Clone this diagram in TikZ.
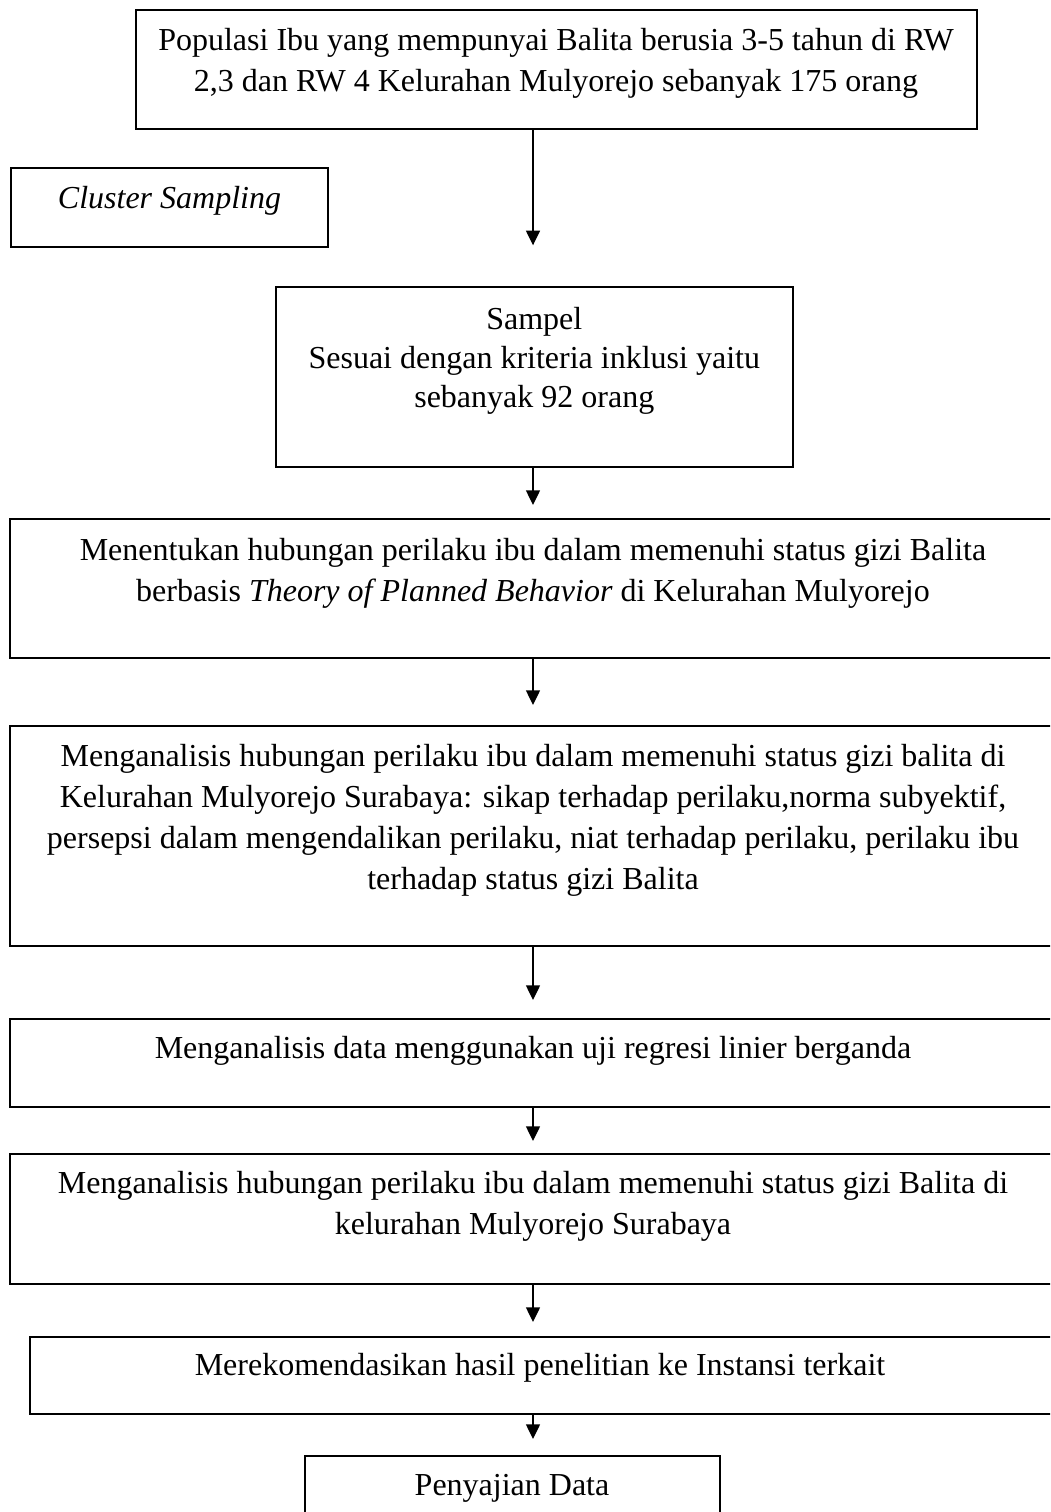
\documentclass[tikz,border=0pt]{standalone}
\usepackage{fontspec}
\setmainfont{Liberation Serif}
\usetikzlibrary{arrows.meta,fit}
\begin{document}
\begin{tikzpicture}[
    x=0.75pt, y=-0.75pt,
    font=\fontsize{24pt}{30.75pt}\selectfont,
    box/.style={draw, line width=1.5pt, inner sep=0pt, outer sep=0pt},
    txt/.style={anchor=base, inner sep=0pt, outer sep=0pt},
    flow/.style={line width=1pt, -{Triangle[width=10.5pt,length=11pt]}}
  ]
  \useasboundingbox (0,0) rectangle (1050,1512);
  \clip (0,0) rectangle (1050,1512);

  % axis of the vertical connectors
  \coordinate (ax) at (533,0);

  % boxes
  \node[box, fit={(135.7,10) (976.7,129)}] (b1) {};
  \node[box, fit={(10.7,168.3) (328.3,246.7)}] (cs) {};
  \node[box, fit={(275.7,287.3) (792.9,467)}] (b2) {};
  \node[box, fit={(10,519) (1056,658)}] (b3) {};
  \node[box, fit={(10,726) (1056,946)}] (b4) {};
  \node[box, fit={(10,1019) (1056,1107)}] (b5) {};
  \node[box, fit={(10,1154) (1056,1284)}] (b6) {};
  \node[box, fit={(29.5,1337) (1056,1414)}] (b7) {};
  \node[box, fit={(304.8,1456) (720,1530)}] (b8) {};

  % texts
  \node[txt] (t1) at (556,50.7) {\parbox[t]{780pt}{\centering
    Populasi Ibu yang mempunyai Balita berusia 3-5 tahun di RW\\
    2,3 dan RW 4 Kelurahan Mulyorejo sebanyak 175 orang}};
  \node[txt] (tcs) at (169.5,208.3) {\textit{Cluster Sampling}};
  \node[txt] (t2) at (534.3,329) {\parbox[t]{500pt}{\centering
    Sampel\\[-1.5pt]
    Sesuai dengan kriteria inklusi yaitu\\[-1.5pt]
    sebanyak 92 orang}};
  \node[txt] (t3) at (533,560) {\parbox[t]{780pt}{\centering
    Menentukan hubungan perilaku ibu dalam memenuhi status gizi Balita\\
    berbasis \textit{Theory of Planned Behavior} di Kelurahan Mulyorejo}};
  \node[txt] (t4) at (533,766) {\parbox[t]{780pt}{\centering
    Menganalisis hubungan perilaku ibu dalam memenuhi status gizi balita di\\
    Kelurahan Mulyorejo Surabaya: sikap terhadap perilaku,norma subyektif,\\
    persepsi dalam mengendalikan perilaku, niat terhadap perilaku, perilaku ibu\\
    terhadap status gizi Balita}};
  \node[txt] (t5) at (533,1058) {Menganalisis data menggunakan uji regresi linier berganda};
  \node[txt] (t6) at (533,1193) {\parbox[t]{780pt}{\centering
    Menganalisis hubungan perilaku ibu dalam memenuhi status gizi Balita di\\
    kelurahan Mulyorejo Surabaya}};
  \node[txt] (t7) at (540,1375) {Merekomendasikan hasil penelitian ke Instansi terkait};
  \node[txt] (t8) at (512,1495) {Penyajian Data};

  % connectors
  \draw[flow, shorten >=31.5pt] (b1.south -| ax) -- (b2.north -| ax);
  \draw[flow, shorten >=10.5pt] (b2.south -| ax) -- (b3.north -| ax);
  \draw[flow, shorten >=15.75pt] (b3.south -| ax) -- (b4.north -| ax);
  \draw[flow, shorten >=14.25pt] (b4.south -| ax) -- (b5.north -| ax);
  \draw[flow, shorten >=9.75pt] (b5.south -| ax) -- (b6.north -| ax);
  \draw[flow, shorten >=11.25pt] (b6.south -| ax) -- (b7.north -| ax);
  \draw[flow, shorten >=12.75pt] (b7.south -| ax) -- (b8.north -| ax);
\end{tikzpicture}
\end{document}
